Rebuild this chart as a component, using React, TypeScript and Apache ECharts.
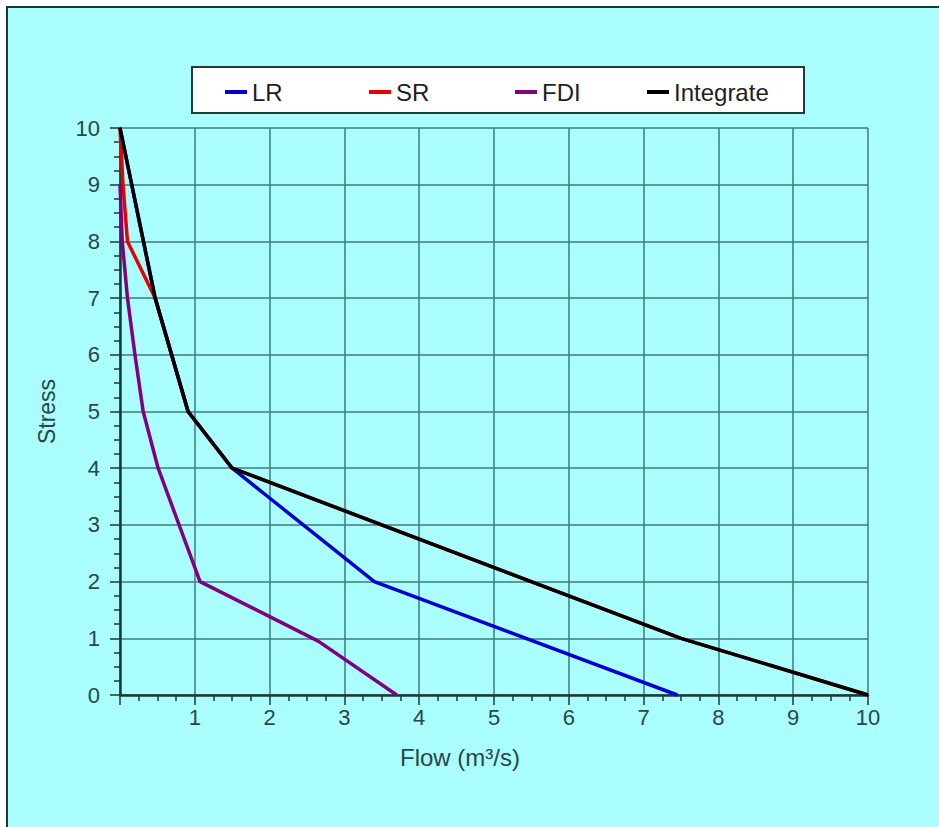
import React, { useEffect, useRef } from "react";
import * as echarts from "echarts";

const X_TICKS = [0, 1, 2, 3, 4, 5, 6, 7, 8, 9, 10];
const Y_TICKS = [0, 1, 2, 3, 4, 5, 6, 7, 8, 9, 10];

const SERIES_NAMES = ["LR", "SR", "FDI", "Integrate"];
const SERIES_COLORS = ["#0000d0", "#e60000", "#800080", "#000000"];

const LR_FLOW = [0, 0.47, 0.91, 1.5, 3.4, 7.45];
const LR_STRESS = [10, 7, 5, 4, 2, 0];

const SR_FLOW = [0, 0.04, 0.1, 0.47, 0.91, 1.5, 7.5, 10];
const SR_STRESS = [10, 9, 8, 7, 5, 4, 1, 0];

const FDI_FLOW = [0, 0.03, 0.1, 0.2, 0.31, 0.51, 1.07, 2.65, 3.7];
const FDI_STRESS = [9, 8, 7, 6, 5, 4, 2, 0.95, 0];

const INT_FLOW = [0, 0.47, 0.91, 1.5, 7.5, 10];
const INT_STRESS = [10, 7, 5, 4, 1, 0];

const zip = (xs: number[], ys: number[]) => xs.map((x, i) => [x, ys[i]]);

const LEGEND_LEFT = [212, 356, 502, 634];

export default function App() {
  const ref = useRef<HTMLDivElement>(null);

  useEffect(() => {
    if (!ref.current) return;
    const chart = echarts.init(ref.current, undefined, { renderer: "svg" });
    const seriesData = [
      zip(LR_FLOW, LR_STRESS),
      zip(SR_FLOW, SR_STRESS),
      zip(FDI_FLOW, FDI_STRESS),
      zip(INT_FLOW, INT_STRESS),
    ];
    const font = "'Liberation Sans', Arial, sans-serif";
    const labelColor = "#2a4646";
    const axisColor = "#1c3838";
    const gridColor = "#3f7a7a";

    chart.setOption({
      animation: false,
      backgroundColor: "transparent",
      textStyle: { fontFamily: font },
      grid: { left: 112, top: 120, width: 748, height: 567 },
      graphic: [
        {
          type: "rect",
          z: 0,
          shape: { x: 184, y: 59, width: 612, height: 46 },
          style: { fill: "#ffffff", stroke: "#223c3c", lineWidth: 2 },
        },
      ],
      legend: SERIES_NAMES.map((name, i) => ({
        data: [name],
        left: LEGEND_LEFT[i],
        top: 67,
        z: 5,
        icon: "rect",
        itemWidth: 22,
        itemHeight: 4,
        itemGap: 5,
        selectedMode: false,
        textStyle: { fontSize: 24, color: "#1e1e1e", fontFamily: font },
      })),
      xAxis: {
        type: "value",
        min: X_TICKS[0],
        max: X_TICKS[X_TICKS.length - 1],
        interval: 1,
        name: "Flow (m³/s)",
        nameLocation: "middle",
        nameGap: 50,
        nameTextStyle: {
          fontSize: 24,
          color: labelColor,
          fontFamily: font,
          padding: [0, 68, 0, 0],
        },
        axisLine: { show: true, onZero: false, lineStyle: { color: axisColor, width: 2.5 } },
        axisTick: { show: true, inside: false, length: 10, lineStyle: { color: axisColor, width: 1.5 } },
        minorTick: { show: true, splitNumber: 4, length: 6, lineStyle: { color: axisColor, width: 1.5 } },
        axisLabel: {
          showMinLabel: false,
          margin: 11,
          fontSize: 22,
          color: labelColor,
          fontFamily: font,
        },
        splitLine: { show: true, lineStyle: { color: gridColor, width: 1.5 } },
      },
      yAxis: {
        type: "value",
        min: Y_TICKS[0],
        max: Y_TICKS[Y_TICKS.length - 1],
        interval: 1,
        name: "Stress",
        nameLocation: "middle",
        nameGap: 62,
        nameTextStyle: { fontSize: 23, color: labelColor, fontFamily: font },
        axisLine: { show: true, onZero: false, lineStyle: { color: axisColor, width: 2.5 } },
        axisTick: { show: true, inside: false, length: 10, lineStyle: { color: axisColor, width: 1.5 } },
        minorTick: { show: true, splitNumber: 4, length: 6, lineStyle: { color: axisColor, width: 1.5 } },
        axisLabel: { margin: 20, fontSize: 22, color: labelColor, fontFamily: font },
        splitLine: { show: true, lineStyle: { color: gridColor, width: 1.5 } },
      },
      series: SERIES_NAMES.map((name, i) => ({
        name,
        type: "line",
        data: seriesData[i],
        showSymbol: false,
        symbol: "none",
        clip: false,
        color: SERIES_COLORS[i],
        lineStyle: { color: SERIES_COLORS[i], width: 3.5 },
        z: 3 + i,
      })),
    });
    return () => chart.dispose();
  }, []);

  return (
    <div
      style={{
        position: "fixed",
        left: 6,
        top: 6,
        width: 933,
        height: 821,
        borderLeft: "2px solid #173b3b",
        borderTop: "2px solid #173b3b",
        background: "#aafefe",
        overflow: "hidden",
      }}
    >
      <div ref={ref} style={{ width: 931, height: 819 }} />
    </div>
  );
}
